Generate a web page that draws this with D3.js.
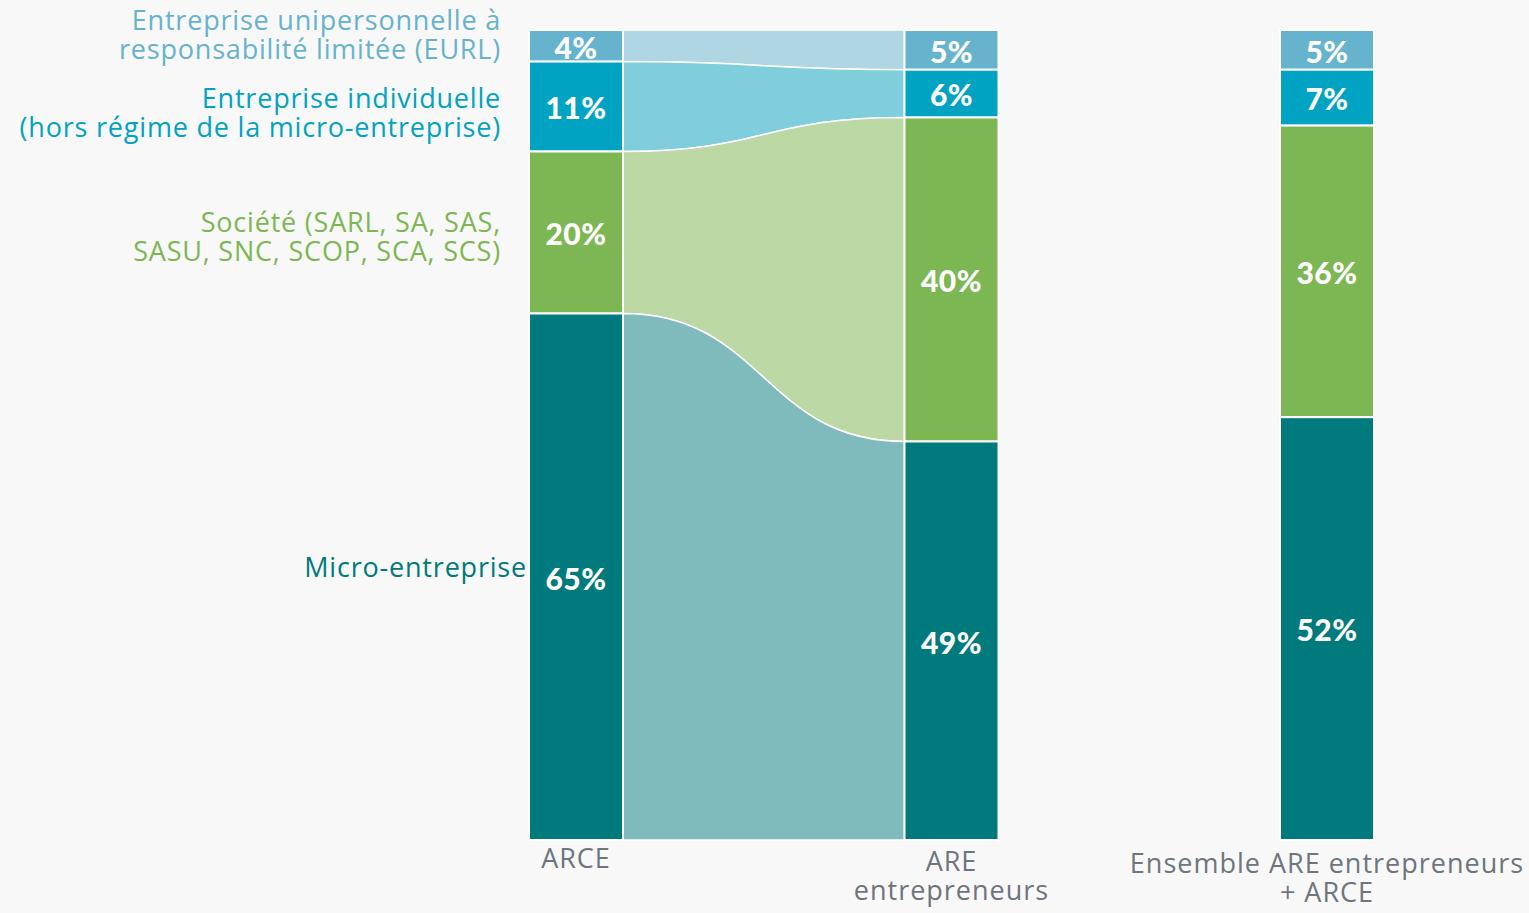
<!DOCTYPE html>
<html>
<head>
<meta charset="utf-8">
<script src="https://cdn.jsdelivr.net/npm/d3@7"></script>
<style>
  html, body { margin: 0; padding: 0; background: #f8f8f8; }
  svg { display: block; }
</style>
</head>
<body>
<svg id="chart"></svg>
<script>
// categories, top to bottom
const categories = ["EURL", "EI", "Société", "Micro-entreprise"];
const categoryLabels = [
  ["Entreprise unipersonnelle à", "responsabilité limitée (EURL)"],
  ["Entreprise individuelle", "(hors régime de la micro-entreprise)"],
  ["Société (SARL, SA, SAS,", "SASU, SNC, SCOP, SCA, SCS)"],
  ["Micro-entreprise"]
];
const columns = ["ARCE", "ARE entrepreneurs", "Ensemble"];
const columnLabels = [["ARCE"], ["ARE", "entrepreneurs"], ["Ensemble ARE entrepreneurs", "+ ARCE"]];

// shares in %
const arceValues = [3.9, 11.1, 20.0, 65.0];
const areValues = [4.9, 5.9, 40.0, 49.2];
const ensembleValues = [4.9, 6.9, 36.0, 52.2];

const colors = ["#65b3cd", "#00a3c1", "#7db753", "#007a7d"];
const flowColors = ["#b0d5e3", "#7ecedc", "#bbd8a5", "#7fbabc"];
const labelColors = ["#65b3cd", "#00a3c1", "#7db753", "#007a7d"];

const W = 1529, H = 913;
const svg = d3.select("#chart").attr("width", W).attr("height", H);

const y = d3.scaleLinear().domain([0, 100]).range([30, 840]);
const x = d3.scalePoint().domain(columns).range([529, 1280]);
const barW = 94;
const font = "'Open Sans', sans-serif";

const stack = vals => {
  let acc = 0;
  return vals.map((v, i) => {
    const d = { cat: categories[i], i, v, y0: acc, y1: acc + v };
    acc += v;
    return d;
  });
};

const series = [stack(arceValues), stack(areValues), stack(ensembleValues)];

// flows between ARCE and ARE
const x0 = x(columns[0]) + barW, x1 = x(columns[1]);
const xm = (x0 + x1) / 2;
const flowPath = (a, b) => {
  const t0 = y(a.y0), b0 = y(a.y1), t1 = y(b.y0), b1 = y(b.y1);
  return `M${x0},${t0} C${xm},${t0} ${xm},${t1} ${x1},${t1} L${x1},${b1} C${xm},${b1} ${xm},${b0} ${x0},${b0} Z`;
};

svg.append("g").selectAll("path")
  .data(series[0])
  .enter()
  .append("path")
  .attr("d", (d, i) => flowPath(d, series[1][i]))
  .attr("fill", d => flowColors[d.i])
  .attr("stroke", "#fff")
  .attr("stroke-width", 1.5);

// bars
const colLabelY = [868, 871, 873];
columns.forEach((c, ci) => {
  const g = svg.append("g");
  g.selectAll("rect")
    .data(series[ci])
    .enter()
    .append("rect")
    .attr("x", x(c))
    .attr("y", d => y(d.y0))
    .attr("width", barW)
    .attr("height", d => y(d.y1) - y(d.y0))
    .attr("fill", d => colors[d.i])
    .attr("stroke", "#fff")
    .attr("stroke-width", 2);

  g.selectAll("text")
    .data(series[ci])
    .enter()
    .append("text")
    .attr("x", x(c) + barW / 2)
    .attr("y", d => (y(d.y0) + y(d.y1)) / 2 + 2)
    .attr("dy", "0.36em")
    .attr("text-anchor", "middle")
    .attr("fill", "#fff")
    .style("font-family", "Lato, 'DejaVu Sans', sans-serif")
    .style("font-weight", 900)
    .style("font-size", "30px")
    .style("letter-spacing", "0.5px")
    .text(d => Math.round(d.v) + "%");

  // column labels
  const lab = svg.append("text")
    .attr("text-anchor", "middle")
    .attr("fill", "#6e757c")
    .style("font-family", font)
    .style("font-weight", 500)
    .style("font-size", "27px")
    .style("letter-spacing", "1px");
  columnLabels[ci].forEach((t, li) => {
    lab.append("tspan")
      .attr("x", x(c) + barW / 2)
      .attr("y", colLabelY[ci] + li * 29)
      .text(t);
  });
});

// category labels on the left
const labelY = [30, 108, 232, 577];
categoryLabels.forEach((lines, i) => {
  const isMicro = lines.length === 1;
  const lx = isMicro ? 527 : 501;
  const t = svg.append("text")
    .attr("text-anchor", "end")
    .attr("fill", labelColors[i])
    .style("font-family", font)
    .style("font-weight", 500)
    .style("font-size", "27px")
    .style("letter-spacing", "0.8px");
  lines.forEach((l, li) => {
    t.append("tspan").attr("x", lx).attr("y", labelY[i] + li * 29).text(l);
  });
});
</script>
</body>
</html>
